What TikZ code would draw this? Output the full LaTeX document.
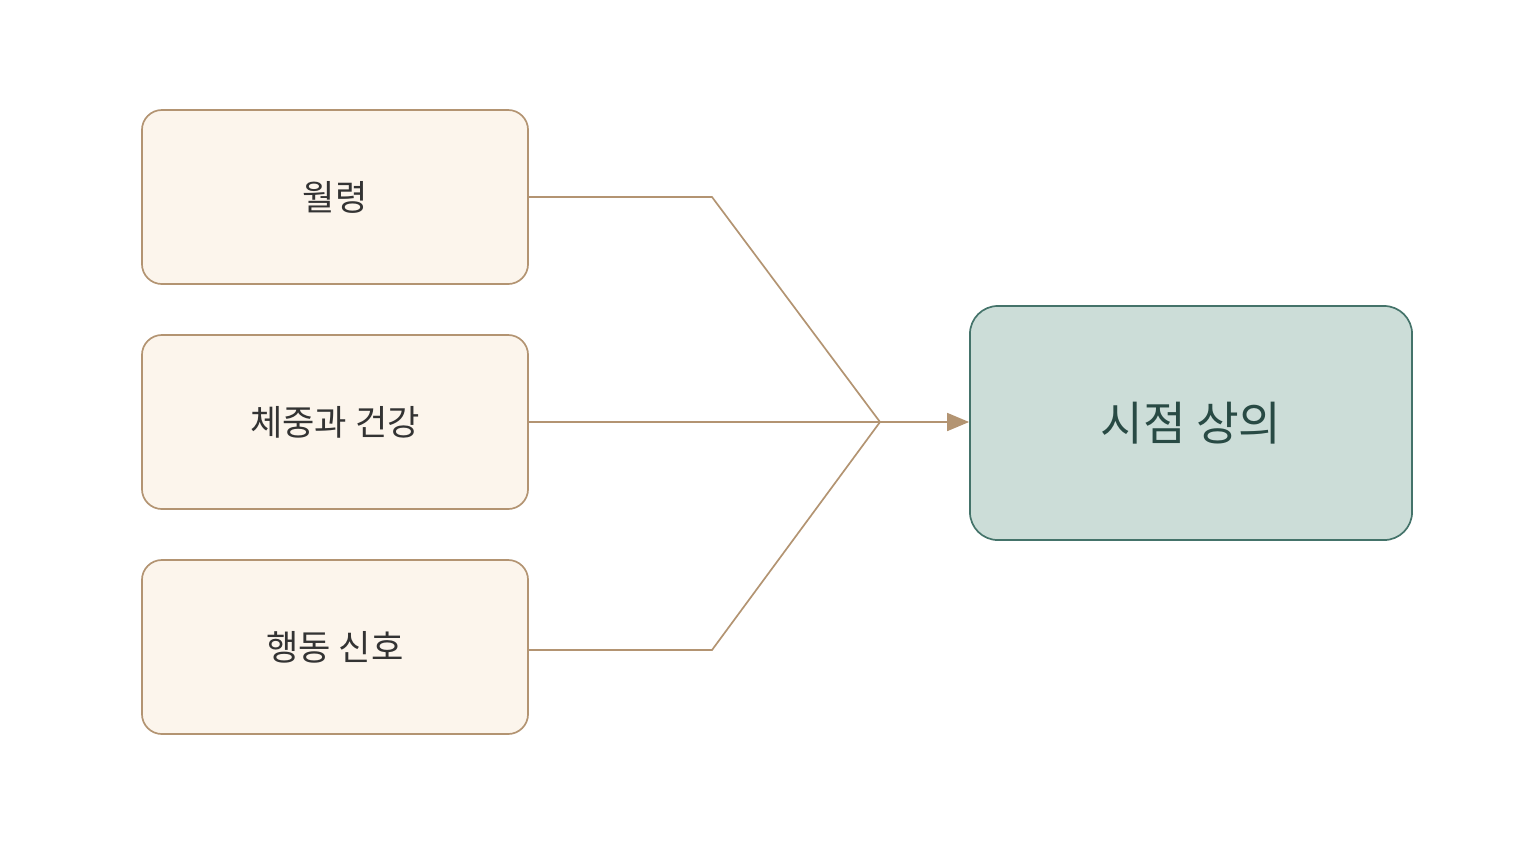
\documentclass[tikz,border=0pt]{standalone}
\usepackage{fontspec}
\newfontfamily\cjk{Noto Sans CJK KR}
\usetikzlibrary{arrows.meta}
\definecolor{inbox}{HTML}{FCF5EC}
\definecolor{inedge}{HTML}{B39472}
\definecolor{outbox}{HTML}{CCDDD8}
\definecolor{outedge}{HTML}{44736A}
\definecolor{outtext}{HTML}{284A44}
\tikzset{
  factor/.style = {draw = inedge, fill = inbox, line width = 1.2pt, rounded corners = 0.5cm,
    minimum width = 9.65cm, minimum height = 4.35cm, font = \cjk\fontsize{25}{30}\selectfont, text = black!80},
  result/.style = {draw = outedge, fill = outbox, line width = 1.2pt, rounded corners = 0.7cm,
    minimum width = 11.05cm, minimum height = 5.85cm, font = \cjk\fontsize{33}{40}\selectfont, text = outtext},
  link/.style = {draw = inedge, line width = 1.2pt}
}
\begin{document}
\begin{tikzpicture}[x=0.025cm, y=-0.025cm]
\fill[white] (0,0) rectangle (1536,864);
\node[factor] (age) at (335,197) {월령};
\node[factor] (weight) at (335,422) {체중과 건강};
\node[factor] (behav) at (335,647) {행동 신호};
\node[result] (time) at (1191,423) {시점 상의};
\coordinate (hub) at (880,422);
\draw[link] (age.east |- 0,197) -- (712,197) -- (hub);
\draw[link] (weight) -- (hub);
\draw[link] (behav.east |- 0,650) -- (712,650) -- (hub);
\draw[link, -{Triangle[length=0.55cm, width=0.45cm]}] (hub) -- (time.west |- hub);
\end{tikzpicture}
\end{document}
